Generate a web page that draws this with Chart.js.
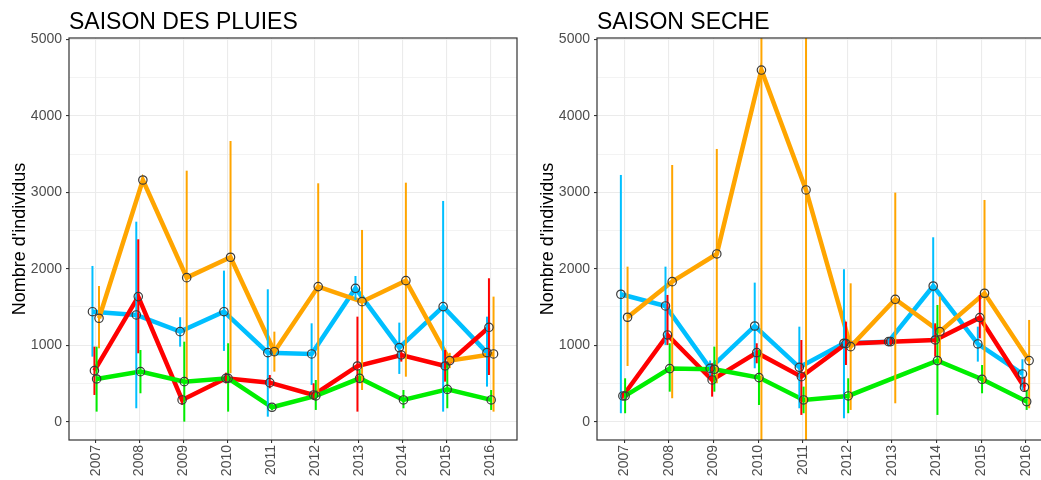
<!DOCTYPE html>
<html>
<head>
<meta charset="utf-8">
<script src="https://cdn.jsdelivr.net/npm/chart.js@4.4.1/dist/chart.umd.min.js"></script>
<style>
html, body { margin: 0; padding: 0; background: #fff; overflow: hidden; width: 1041px; height: 480px; }
#gauche { position: absolute; left: 0; top: 0; }
#droite { position: absolute; left: 528px; top: 0; }
</style>
</head>
<body>
<canvas id="gauche" width="525" height="480"></canvas>
<canvas id="droite" width="533" height="480"></canvas>
<script>
// --- données (nombre d'individus par année) ---
const annees = [2007, 2008, 2009, 2010, 2011, 2012, 2013, 2014, 2015, 2016];
const graduationsY = [0, 500, 1000, 1500, 2000, 2500, 3000, 3500, 4000, 4500, 5000];

// saison des pluies
const pluiesBleu     = [1438, 1395, 1177, 1438, 902, 885, 1744, 968, 1504, 902];
const pluiesBleuBas  = [850, 175, 981, 925, 65, 480, 1591, 624, 131, 458];
const pluiesBleuHaut = [2036, 2615, 1365, 1975, 1731, 1286, 1905, 1295, 2886, 1373];
const pluiesRouge     = [667, 1635, 284, 567, 510, 349, 728, 872, 728, 1234];
const pluiesRougeBas  = [349, 894, 220, 500, 437, 284, 131, 785, 523, 610];
const pluiesRougeHaut = [981, 2385, 350, 640, 610, 502, 1373, 937, 937, 1875];
const pluiesVert     = [558, 654, 523, 567, 188, 336, 567, 284, 423, 284];
const pluiesVertBas  = [131, 371, 0, 131, 150, 153, 502, 175, 175, 153];
const pluiesVertHaut = [981, 937, 1046, 1025, 230, 545, 676, 414, 763, 414];
const pluiesOrange     = [1352, 3160, 1883, 2150, 915, 1766, 1569, 1844, 798, 885];
const pluiesOrangeBas  = [959, null, 545, 633, 654, 349, 414, 588, 700, 131];
const pluiesOrangeHaut = [1774, null, 3282, 3670, 1177, 3117, 2507, 3125, 900, 1635];

// saison sèche
const secheBleu     = [1666, 1513, 698, 1251, 711, 1025, 1046, 1774, 1016, 624];
const secheBleuBas  = [110, 1003, 600, 698, 175, 44, 1000, 1090, 785, 414];
const secheBleuHaut = [3226, 2027, 800, 1818, 1242, 1993, 1090, 2411, 1242, 816];
const secheRouge     = [336, 1134, 545, 902, 588, 1020, 1046, 1068, 1360, 450];
const secheRougeBas  = [300, 1003, 327, 763, 88, 741, 1000, 850, 1090, 392];
const secheRougeHaut = [380, 1657, 763, 1025, 1068, 1308, 1090, 1286, 1657, 588];
const secheVert     = [336, 694, 685, 576, 284, 336, null, 798, 554, 262];
const secheVertBas  = [110, 392, 392, 218, 110, 110, null, 88, 371, 153];
const secheVertHaut = [567, 1025, 981, 937, 458, 567, null, 1526, 741, 414];
const secheOrange     = [1365, 1831, 2193, 4598, 3030, 981, 1600, 1177, 1679, 798];
const secheOrangeBas  = [728, 306, 502, -1500, -1500, 153, 240, 768, 502, 175];
const secheOrangeHaut = [2027, 3356, 3566, 9000, 8000, 1809, 2995, 1635, 2899, 1330];

// couleurs et décalage horizontal (position_dodge)
const BLEU = '#00BFFF', ROUGE = '#FF0000', VERT = '#00EE00', ORANGE = '#FFA500';
const DECALAGE = { bleu: -0.075, rouge: -0.03, vert: 0.02, orange: 0.075 };

Chart.defaults.font.family = '"Liberation Sans", Arial, sans-serif';

// barres d'erreur entre les lignes et les points, bordure du panneau et titre
const habillage = {
    id: 'habillage',
    beforeDatasetsDraw(chart) { chart.$barresFaites = false; },
    beforeDatasetDraw(chart, args) {
        const ds = chart.data.datasets[args.index];
        if (!ds.pointsSeuls || chart.$barresFaites) return;
        chart.$barresFaites = true;
        const { ctx, chartArea: a, scales: { x, y } } = chart;
        ctx.save();
        ctx.beginPath();
        ctx.rect(a.left, a.top, a.right - a.left, a.bottom - a.top);
        ctx.clip();
        ctx.lineWidth = 2;
        chart.data.datasets.forEach(d => {
            if (!d.bas) return;
            ctx.strokeStyle = d.couleur;
            d.data.forEach((p, i) => {
                if (d.bas[i] == null || d.haut[i] == null) return;
                const px = x.getPixelForValue(p.x);
                ctx.beginPath();
                ctx.moveTo(px, y.getPixelForValue(d.bas[i]));
                ctx.lineTo(px, y.getPixelForValue(d.haut[i]));
                ctx.stroke();
            });
        });
        ctx.restore();
    },
    afterDraw(chart, args, opts) {
        const { ctx, chartArea: a } = chart;
        ctx.save();
        ctx.strokeStyle = '#333';
        ctx.lineWidth = 1.2;
        ctx.strokeRect(a.left, a.top, a.right - a.left, a.bottom - a.top);
        ctx.fillStyle = '#000';
        ctx.font = '23px "Liberation Sans", Arial, sans-serif';
        ctx.textBaseline = 'alphabetic';
        ctx.textAlign = 'left';
        ctx.fillText(opts.titre, a.left, 29);
        ctx.restore();
    }
};

function points(vals, d) {
    return annees.map((a, i) => ({ x: a + d, y: vals[i] }));
}

function series(nom, couleur, vals, bas, haut, rang) {
    const d = DECALAGE[nom];
    return [
        { // ligne
            data: points(vals, d), borderColor: couleur, borderWidth: 4.5,
            pointRadius: 0, spanGaps: true, tension: 0, order: 10 + rang
        },
        { // cercles creux + barres
            data: points(vals, d), showLine: false, pointsSeuls: true,
            couleur: couleur, bas: bas, haut: haut,
            pointRadius: 4.2, pointBorderWidth: 1.2, pointBackgroundColor: 'rgba(0,0,0,0)',
            pointBorderColor: '#3a3a3a', order: rang
        }
    ];
}

function creerPanneau(id, titre, groupes) {
    const datasets = [];
    groupes.forEach(g => datasets.push(...series(...g)));
    return new Chart(document.getElementById(id), {
        type: 'line',
        data: { datasets: datasets },
        plugins: [habillage],
        options: {
            responsive: false,
            animation: false,
            layout: { padding: { top: 38, right: 8, left: 0, bottom: 0 } },
            plugins: {
                legend: { display: false },
                tooltip: { enabled: false },
                habillage: { titre: titre }
            },
            scales: {
                x: {
                    type: 'linear', min: 2006.39, max: 2016.61,
                    afterBuildTicks: s => { s.ticks = annees.map(v => ({ value: v })); },
                    afterFit: s => { s.height = 40; },
                    ticks: {
                        minRotation: 90, maxRotation: 90, padding: 2,
                        color: '#4D4D4D', font: { size: 14 },
                        callback: v => String(v)
                    },
                    grid: { color: '#EBEBEB', lineWidth: 1.1, tickLength: 3, tickColor: '#333' },
                    border: { display: false }
                },
                y: {
                    type: 'linear', min: -240, max: 5017,
                    afterBuildTicks: s => { s.ticks = graduationsY.map(v => ({ value: v })); },
                    afterFit: s => { s.width = 69; },
                    ticks: {
                        padding: 4, color: '#4D4D4D', font: { size: 14 },
                        callback: v => (v % 1000 === 0 ? String(v) : '')
                    },
                    grid: {
                        color: '#EBEBEB',
                        lineWidth: c => (c.tick && c.tick.value % 1000 === 0 ? 1.1 : 0.6),
                        tickLength: 3,
                        tickColor: c => (c.tick && c.tick.value % 1000 === 0 ? '#333' : 'rgba(0,0,0,0)')
                    },
                    border: { display: false },
                    title: {
                        display: true, text: "Nombre d'individus", color: '#000',
                        font: { size: 18 }, padding: { top: 9, bottom: 0 }
                    }
                }
            }
        }
    });
}

creerPanneau('gauche', 'SAISON DES PLUIES', [
    ['bleu', BLEU, pluiesBleu, pluiesBleuBas, pluiesBleuHaut, 3],
    ['rouge', ROUGE, pluiesRouge, pluiesRougeBas, pluiesRougeHaut, 2],
    ['vert', VERT, pluiesVert, pluiesVertBas, pluiesVertHaut, 1],
    ['orange', ORANGE, pluiesOrange, pluiesOrangeBas, pluiesOrangeHaut, 0]
]);

creerPanneau('droite', 'SAISON SECHE', [
    ['bleu', BLEU, secheBleu, secheBleuBas, secheBleuHaut, 3],
    ['rouge', ROUGE, secheRouge, secheRougeBas, secheRougeHaut, 2],
    ['vert', VERT, secheVert, secheVertBas, secheVertHaut, 1],
    ['orange', ORANGE, secheOrange, secheOrangeBas, secheOrangeHaut, 0]
]);
</script>
</body>
</html>
